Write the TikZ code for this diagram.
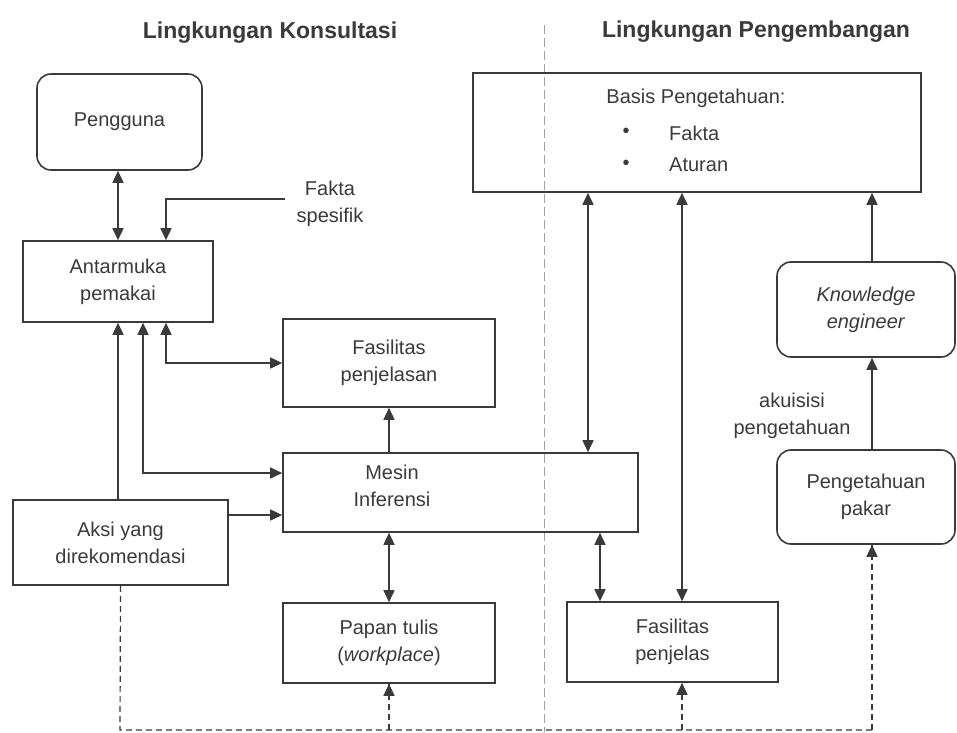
\documentclass[tikz,border=0pt]{standalone}
\usepackage{fontspec}
\setmainfont{Liberation Sans}
\usetikzlibrary{arrows.meta,calc}
\definecolor{linec}{HTML}{3A3A3A}
\definecolor{textc}{HTML}{3A3A3A}
\definecolor{divc}{HTML}{A0A0A0}
\tikzset{
  boxnode/.style={draw=linec, line width=1.6pt, inner sep=0pt, align=center, text=textc,
    font=\fontsize{20}{27}\selectfont},
  rboxnode/.style={boxnode, rounded corners=14pt},
  plaintext/.style={inner sep=0pt, align=center, text=textc, font=\fontsize{20}{27}\selectfont},
  titletext/.style={inner sep=0pt, text=textc, font=\fontsize{23}{28}\selectfont\bfseries},
  conn/.style={draw=linec, line width=1.6pt},
  dconn/.style={draw=linec, line width=1.2pt, dash pattern=on 6pt off 4pt},
  divider/.style={draw=divc, line width=1pt, dash pattern=on 9pt off 4pt},
  >={Triangle[length=12pt,width=11pt]}
}
\begin{document}
\begin{tikzpicture}[x=1pt,y=-1pt]
\useasboundingbox (0,0) rectangle (957,732);
% divider
\draw[divider] (544,25) -- (544,732);
% titles
\node[titletext] (t1) at (270,33) {Lingkungan Konsultasi};
\node[titletext] (t2) at (756,32) {Lingkungan Pengembangan};
% boxes
\node[rboxnode, minimum width=165pt, minimum height=96pt] (pengguna) at (119.5,122) {Pengguna};
\node[boxnode, minimum width=190pt, minimum height=81pt] (antar) at (118,281.5) {Antarmuka\\pemakai};
\node[plaintext] (fakta) at (330,204) {Fakta\\spesifik};
\coordinate (fk) at (285,199);
\node[boxnode, minimum width=212pt, minimum height=88pt] (fpj) at (389,363) {Fasilitas\\penjelasan};
\node[boxnode, minimum width=355pt, minimum height=79pt] (mesin) at (460.5,492.5) {};
\node[plaintext] (mesintext) at (392,486) {Mesin\\Inferensi};
\node[boxnode, minimum width=212pt, minimum height=80pt] (papan) at (389,643) {Papan tulis\\(\textit{workplace})};
\node[boxnode, minimum width=215pt, minimum height=85pt] (aksi) at (120.5,542.5) {Aksi yang\\direkomendasi};
\node[boxnode, minimum width=448pt, minimum height=119pt] (basis) at (697,132.5) {};
\node[plaintext] (basistitle) at (696,98) {Basis Pengetahuan:};
\node[plaintext] (b1) at (626,133) {•};
\node[plaintext] (b2) at (626,165) {•};
\node[plaintext, anchor=west] (fakta2) at (669,133) {Fakta};
\node[plaintext, anchor=west] (aturan) at (669,165) {Aturan};
\node[boxnode, minimum width=211pt, minimum height=80pt] (fpl) at (672.5,642) {Fasilitas\\penjelas};
\node[rboxnode, minimum width=178pt, minimum height=95pt] (ke) at (866,309.5) {\textit{Knowledge}\\\textit{engineer}};
\node[rboxnode, minimum width=178pt, minimum height=94pt] (pakar) at (866,497) {Pengetahuan\\pakar};
\node[plaintext] (akuisisi) at (792,416) {akuisisi\\pengetahuan};
% connectors left
\draw[conn,<->] (antar.north |- pengguna.south) -- (antar.north);
\draw[conn,->] (fk) -| ([xshift=48pt]antar.north);
\draw[conn,->] (antar.south |- aksi.north) -- (antar.south);
\coordinate (a2) at ([xshift=25pt]antar.south);
\coordinate (m2) at ([yshift=19.5pt]mesin.west);
\draw[conn,<->] (a2) |- (m2);
\draw[conn,<->] ([xshift=48pt]antar.south) |- (fpj.west);
\coordinate (aksiout) at ([yshift=27.5pt]aksi.east);
\draw[conn,->] (aksiout) -- (aksiout -| mesin.west);
\draw[conn,->] (fpj.south |- mesin.north) -- (fpj.south);
\draw[conn,<->] (papan.north |- mesin.south) -- (papan.north);
% connectors right
\coordinate (c1) at ([xshift=-72.5pt]fpl.north);
\draw[conn,<->] (c1 |- mesin.south) -- (c1);
\coordinate (c2) at ([xshift=-109pt]basis.south);
\draw[conn,<->] (c2) -- (c2 |- mesin.north);
\coordinate (c3) at ([xshift=-15pt]basis.south);
\draw[conn,<->] (c3) -- (c3 |- fpl.north);
\coordinate (c4) at ([xshift=6pt]pakar.north);
\draw[conn,->] (c4) -- (c4 |- ke.south);
\draw[conn,->] (c4 |- ke.north) -- (c4 |- basis.south);
% bottom dashed
\coordinate (bl) at (120,730);
\coordinate (br) at (872,730);
\coordinate (pk) at (c4 |- pakar.south);
\coordinate (pp) at (papan.south);
\coordinate (fp) at (c3 |- fpl.south);
\draw[dconn] (aksi.south) -- (bl) -- (br);
\draw[dconn] (br) -- (pk);
\draw[conn,->] ([yshift=-12pt]pk) -- (pk);
\draw[dconn] (pp |- bl) -- (pp);
\draw[conn,->] ([yshift=-12pt]pp) -- (pp);
\draw[dconn] (fp |- bl) -- (fp);
\draw[conn,->] ([yshift=-12pt]fp) -- (fp);
\end{tikzpicture}
\end{document}
